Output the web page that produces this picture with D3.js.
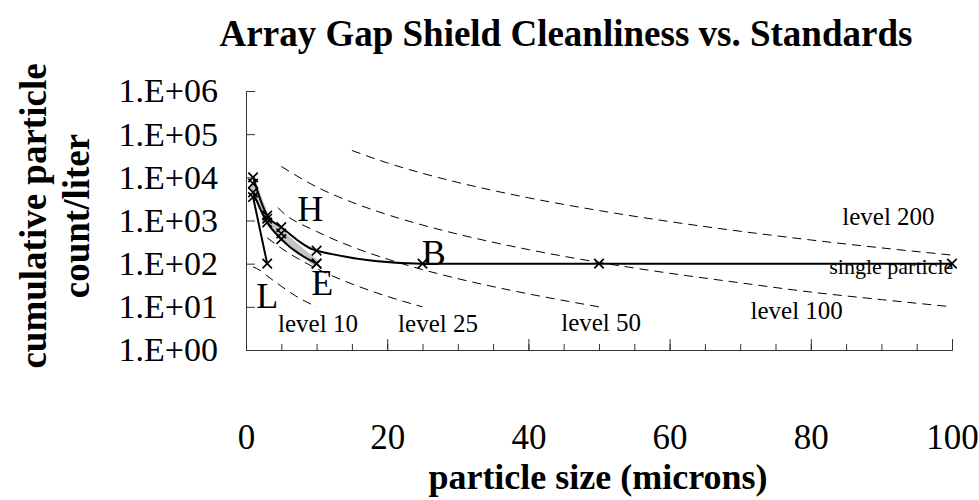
<!DOCTYPE html>
<html>
<head>
<meta charset="utf-8">
<script src="https://cdn.jsdelivr.net/npm/d3@7"></script>
<style>
  body { margin: 0; background: #fff; }
  text { font-family: "Liberation Serif", "Times New Roman", serif; fill: #000; }
  .bold { font-weight: bold; }
</style>
</head>
<body>
<div id="chart"></div>
<script>
// particle sizes (microns) sampled for the sample series
var sizesH = [1, 3, 5, 10, 25, 50, 100];
var countsH = [10000, 1300, 700, 200, 100, 100, 100];
var sizesGray = [1, 3, 5, 10];
var countsGray = [7200, 1100, 500, 100];
var sizesE = [1, 3, 5, 10];
var countsE = [4500, 900, 370, 100];
var sizesL = [1, 3];
var countsL = [3500, 100];

// cleanliness level curves
var level10_x = [1, 2, 3, 5, 7, 10];
var level10_y = [84, 70, 52, 30, 18, 10];
var level25_x = [3, 5, 10, 15, 20, 25];
var level25_y = [397, 228, 77, 34, 17.5, 10];
var level50_x = [4.5, 5, 10, 15, 20, 25, 30, 40, 50];
var level50_y = [2000, 1660, 558, 247, 128, 73, 45, 20, 10];
var level100_x = [5, 10, 15, 20, 25, 30, 40, 50, 60, 70, 80, 90, 100];
var level100_y = [17850, 6000, 2650, 1370, 784, 483, 212, 107, 60, 36, 22, 14.7, 10];
var level200_x = [15, 20, 25, 30, 40, 50, 60, 70, 80, 90, 100];
var level200_y = [41900, 21650, 12400, 7630, 3360, 1700, 944, 563, 354, 232, 158];

var yTicks = [1, 10, 100, 1000, 10000, 100000, 1000000];
var yTickLabels = ["1.E+00", "1.E+01", "1.E+02", "1.E+03", "1.E+04", "1.E+05", "1.E+06"];
var xTicks = [0, 20, 40, 60, 80, 100];

function draw_chart(div_id){
    var width = 979, height = 500;
    var margin = {top: 91, right: 27, bottom: 150, left: 246};
    var w = width - margin.left - margin.right,
        h = height - margin.top - margin.bottom;

    var svg = d3.select(div_id).append("svg")
        .attr("width", width)
        .attr("height", height);

    var g = svg.append("g")
        .attr("transform", "translate(" + margin.left + "," + margin.top + ")");

    var xScale = d3.scaleLinear().domain([0, 100]).range([0, w]);
    var yScale = d3.scaleLog().domain([1, 1000000]).range([h, 0]);

    // level curves, dashed
    var levels = [
        {x: level10_x, y: level10_y},
        {x: level25_x, y: level25_y},
        {x: level50_x, y: level50_y},
        {x: level100_x, y: level100_y},
        {x: level200_x, y: level200_y}
    ];
    var line = d3.line()
        .x(function(d){ return xScale(d[0]); })
        .y(function(d){ return yScale(d[1]); })
        .curve(d3.curveMonotoneX);

    levels.forEach(function(lv){
        g.append("path")
            .datum(d3.zip(lv.x, lv.y))
            .attr("d", line)
            .attr("fill", "none")
            .attr("stroke", "#000")
            .attr("stroke-width", 1)
            .attr("stroke-dasharray", "9,6");
    });

    // gray band series drawn first
    g.append("path")
        .datum(d3.zip(sizesGray, countsGray))
        .attr("d", line)
        .attr("fill", "none")
        .attr("stroke", "#c4c4c4")
        .attr("stroke-width", 7);

    var series = [
        d3.zip(sizesH, countsH),
        d3.zip(sizesE, countsE),
        d3.zip(sizesL, countsL)
    ];
    series.forEach(function(s){
        g.append("path")
            .datum(s)
            .attr("d", line)
            .attr("fill", "none")
            .attr("stroke", "#000")
            .attr("stroke-width", 2);
    });

    // x markers
    var allPts = series.concat([d3.zip(sizesGray, countsGray)]);
    var cross = d3.symbol().type(d3.symbolX).size(60);
    allPts.forEach(function(s){
        g.selectAll(null)
            .data(s)
            .enter().append("path")
            .attr("d", cross)
            .attr("transform", function(d){ return "translate(" + xScale(d[0]) + "," + yScale(d[1]) + ")"; })
            .attr("fill", "none")
            .attr("stroke", "#000")
            .attr("stroke-width", 1.7);
    });

    // axes
    var yAxis = d3.axisLeft(yScale)
        .tickValues(yTicks)
        .tickSize(-9)
        .tickFormat(function(d, i){ return yTickLabels[i]; })
        .tickPadding(28);
    var ya = g.append("g").call(yAxis);
    ya.select(".domain").attr("stroke", "#333");
    ya.selectAll(".tick line").attr("stroke", "#333");
    ya.selectAll("text").style("font-size", "34px")
        .attr("font-family", null);

    var xMinor = d3.axisBottom(xScale)
        .tickValues(d3.range(0, 101, 5))
        .tickSize(-6)
        .tickFormat("");
    var xm = g.append("g").attr("transform", "translate(0," + h + ")").call(xMinor);
    xm.select(".domain").remove();
    xm.selectAll(".tick line").attr("stroke", "#333");

    var xAxis = d3.axisBottom(xScale)
        .tickValues(xTicks)
        .tickSize(-11)
        .tickPadding(74);
    var xa = g.append("g").attr("transform", "translate(0," + h + ")").call(xAxis);
    xa.select(".domain").attr("stroke", "#333");
    xa.selectAll(".tick line").attr("stroke", "#333");
    xa.selectAll("text").style("font-size", "35px")
        .attr("font-family", null);

    // labels on the chart
    var levelLabels = [
        {t: "level 10", x: 10.2, y: 4.2},
        {t: "level 25", x: 27.2, y: 4.2},
        {t: "level 50", x: 50.3, y: 4.3},
        {t: "level 100", x: 78, y: 8.5},
        {t: "level 200", x: 91, y: 1250}
    ];
    g.selectAll(null).data(levelLabels).enter().append("text")
        .attr("x", function(d){ return xScale(d.x); })
        .attr("y", function(d){ return yScale(d.y); })
        .attr("text-anchor", "middle")
        .attr("dy", "0.35em")
        .style("font-size", "25px")
        .text(function(d){ return d.t; });

    g.append("text")
        .attr("x", xScale(91.4))
        .attr("y", yScale(87))
        .attr("text-anchor", "middle")
        .attr("dy", "0.35em")
        .style("font-size", "22px")
        .text("single particle");

    var seriesLabels = [
        {t: "H", x: 9.1, y: 1950},
        {t: "E", x: 10.8, y: 37},
        {t: "L", x: 3.0, y: 18},
        {t: "B", x: 26.6, y: 186}
    ];
    g.selectAll(null).data(seriesLabels).enter().append("text")
        .attr("x", function(d){ return xScale(d.x); })
        .attr("y", function(d){ return yScale(d.y); })
        .attr("text-anchor", "middle")
        .attr("dy", "0.35em")
        .style("font-size", "36px")
        .text(function(d){ return d.t; });

    // titles
    svg.append("text")
        .attr("class", "bold")
        .attr("x", 566)
        .attr("y", 46)
        .attr("text-anchor", "middle")
        .style("font-size", "37px")
        .text("Array Gap Shield Cleanliness vs. Standards");

    svg.append("text")
        .attr("class", "bold")
        .attr("x", 598)
        .attr("y", 489)
        .attr("text-anchor", "middle")
        .style("font-size", "36px")
        .text("particle size (microns)");

    var yTitle = svg.append("text")
        .attr("class", "bold")
        .attr("transform", "translate(0,216) rotate(-90)")
        .attr("text-anchor", "middle")
        .style("font-size", "37px");
    yTitle.append("tspan").attr("x", 0).attr("y", 46).text("cumulative particle");
    yTitle.append("tspan").attr("x", 0).attr("y", 89).text("count/liter");
}

draw_chart("#chart");
</script>
</body>
</html>
